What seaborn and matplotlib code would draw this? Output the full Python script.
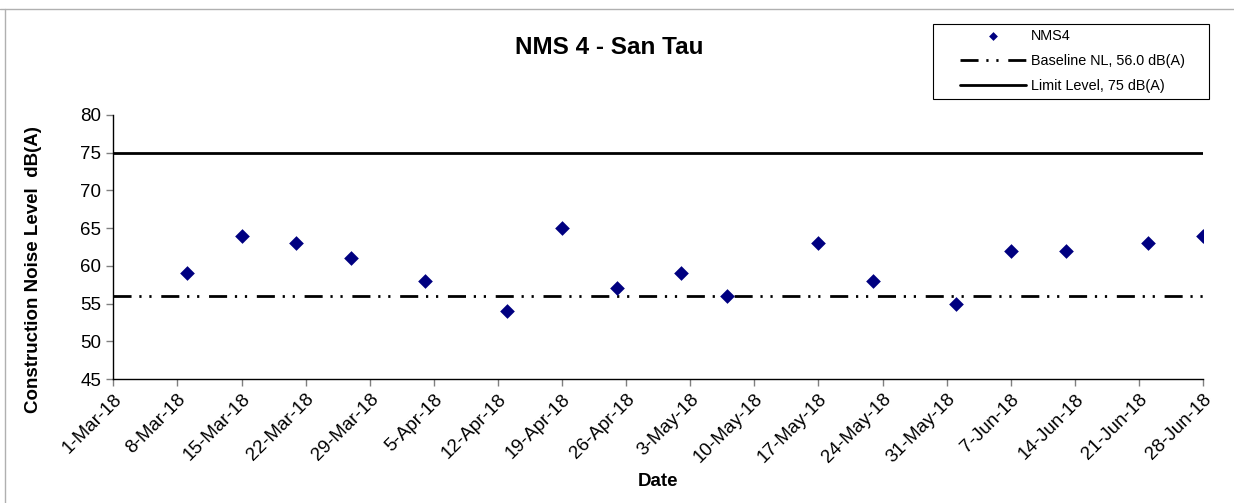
import matplotlib
matplotlib.use('Agg')
import pandas as pd
import matplotlib.pyplot as plt
import matplotlib.dates as mdates
from matplotlib.lines import Line2D
from matplotlib.patches import Rectangle
import seaborn as sns

# === DONNÉES ===
dates = ["2018-03-09", "2018-03-15", "2018-03-21", "2018-03-27", "2018-04-04",
         "2018-04-13", "2018-04-19", "2018-04-25", "2018-05-02", "2018-05-07",
         "2018-05-17", "2018-05-23", "2018-06-01", "2018-06-07", "2018-06-13",
         "2018-06-22", "2018-06-28"]
niveaux = [59, 64, 63, 61, 58, 54, 65, 57, 59, 56, 63, 58, 55, 62, 62, 63, 64]
baseline = 56.0
limite = 75
x_debut, x_fin = "2018-03-01", "2018-06-28"
y_ticks = [45, 50, 55, 60, 65, 70, 75, 80]

df = pd.DataFrame({"date": pd.to_datetime(dates), "niveau": niveaux})

# === VISUALISATION ===
sns.set_theme(style="white")
plt.rcParams['font.family'] = ['Liberation Sans', 'DejaVu Sans']
plt.rcParams.update({"text.color": "black", "axes.labelcolor": "black",
                     "xtick.color": "black", "ytick.color": "black"})

fig = plt.figure(figsize=(12.34, 5.03), dpi=100)
ax = fig.add_axes([0.0918, 0.2465, 0.8832, 0.525])

x0, x1 = pd.Timestamp(x_debut), pd.Timestamp(x_fin)

sns.scatterplot(data=df, x="date", y="niveau", ax=ax, marker="D", s=56,
                color="#000080", edgecolor="#000080", linewidth=0, label="NMS4", zorder=3)
ax.plot([x0, x1], [baseline, baseline], color="black", lw=2.0,
        dashes=(6.5, 2.8, 0.8, 2.8, 0.8, 3.5), label="Baseline NL, 56.0 dB(A)")
ax.plot([x0, x1], [limite, limite], color="black", lw=2.0,
        label="Limit Level, 75 dB(A)")

ax.set_xlim(x0, x1)
ax.set_ylim(45, 80)
ax.set_yticks(y_ticks)
ax.set_xticks(pd.date_range(x0, x1, freq="7D"))
ax.xaxis.set_major_formatter(plt.FuncFormatter(
    lambda v, p: f"{mdates.num2date(v).day}-{mdates.num2date(v).strftime('%b-%y')}"))

ax.tick_params(axis="both", labelsize=13.5, labelcolor="black", length=5, width=1,
               direction="out", bottom=True, left=True, color="#808080")
for lab in ax.get_xticklabels():
    lab.set_rotation(45)
    lab.set_ha("right")
    lab.set_rotation_mode("anchor")

for s in ["top", "right"]:
    ax.spines[s].set_visible(False)
for s in ["left", "bottom"]:
    ax.spines[s].set_color("black")
    ax.spines[s].set_linewidth(1.0)

ax.set_xlabel("Date", fontsize=13.5, fontweight="bold", labelpad=5)
ax.set_ylabel("Construction Noise Level  dB(A)", fontsize=13.5, fontweight="bold")
ax.yaxis.set_label_coords(-0.0652, 0.413)
fig.text(0.4935, 0.905, "NMS 4 - San Tau", fontsize=17.5, fontweight="bold",
         ha="center", va="center")

# légende : cadre dessiné séparément
leg = ax.legend(loc="upper left", bbox_to_anchor=(960 / 1234, 1 - 29 / 503),
                bbox_transform=fig.transFigure, fontsize=10.4, frameon=False,
                handlelength=4.6, borderpad=0, borderaxespad=0, markerscale=0.6,
                labelspacing=0.76, handletextpad=0.3)
fig.add_artist(Rectangle((933 / 1234, 1 - 99 / 503), 276 / 1234, 75 / 503,
                         fill=False, edgecolor="black", lw=0.8,
                         transform=fig.transFigure))

# cadre gris partiel
fig.add_artist(Line2D([0.0, 1.0], [0.982, 0.982], color="#b0b0b0", lw=1,
                      transform=fig.transFigure))
fig.add_artist(Line2D([0.004, 0.004], [0.0, 0.982], color="#b0b0b0", lw=1,
                      transform=fig.transFigure))

plt.savefig("out.png", dpi=100)
